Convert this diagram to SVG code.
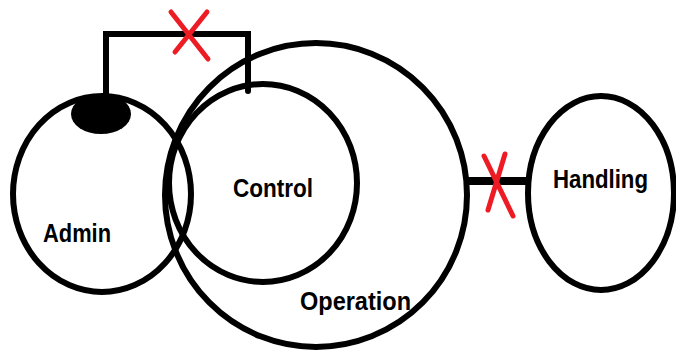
<svg xmlns="http://www.w3.org/2000/svg" width="676" height="350" viewBox="0 0 676 350">
<style>
.ring{fill:none;stroke:#000;stroke-width:6}
.lbl{font-family:"Liberation Sans",Arial,sans-serif;font-weight:bold;font-size:25px;fill:#000}
.wire{fill:none;stroke:#000;stroke-width:6;stroke-linecap:round;stroke-linejoin:miter}
.cross{fill:none;stroke:#ed1c24;stroke-width:5;stroke-linecap:round}
</style>
<rect width="676" height="350" fill="#fff"/>
<g id="operation">
<ellipse class="ring" cx="316" cy="195" rx="151" ry="152"/>
<text class="lbl" x="300" y="310" textLength="111" lengthAdjust="spacingAndGlyphs">Operation</text>
</g>
<g id="admin">
<ellipse class="ring" cx="102" cy="194" rx="89" ry="98"/>
<ellipse cx="101" cy="114" rx="30" ry="20" fill="#000"/>
<text class="lbl" x="43" y="242" textLength="68" lengthAdjust="spacingAndGlyphs">Admin</text>
</g>
<g id="control">
<ellipse class="ring" cx="263" cy="183" rx="94" ry="99"/>
<text class="lbl" x="233" y="197" textLength="80" lengthAdjust="spacingAndGlyphs">Control</text>
</g>
<g id="handling">
<ellipse class="ring" cx="601" cy="193" rx="73" ry="97"/>
<text class="lbl" x="553" y="188" textLength="95" lengthAdjust="spacingAndGlyphs">Handling</text>
</g>
<g id="connectors">
<polyline class="wire" points="106,95 106,34 248,34 248,91"/>
<line x1="467" y1="181" x2="527" y2="181" stroke="#000" stroke-width="8"/>
<line class="cross" x1="171" y1="12" x2="208" y2="59"/>
<line class="cross" x1="207" y1="12" x2="175" y2="52"/>
<line class="cross" x1="484" y1="156" x2="513" y2="216"/>
<line class="cross" x1="505" y1="154" x2="488" y2="210"/>
</g>
</svg>
